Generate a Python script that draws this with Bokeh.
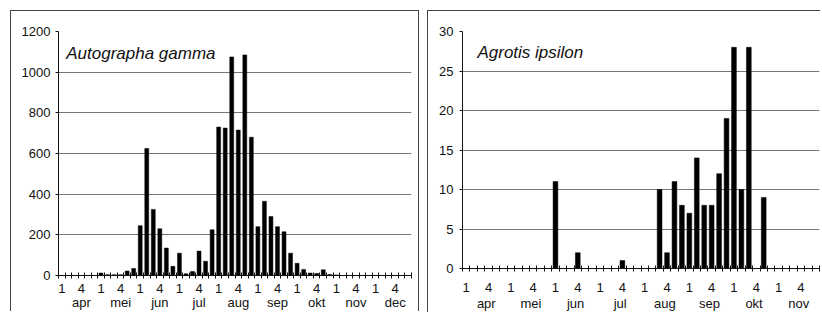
from bokeh.plotting import figure
from bokeh.layouts import row
from bokeh.models import FixedTicker, Label, Range1d, LinearAxis
from bokeh.embed import file_html
from bokeh.resources import INLINE

# ---------------- data ----------------
months_left = ["apr", "mei", "jun", "jul", "aug", "sep", "okt", "nov", "dec"]
gamma = [0, 0, 0, 0, 0, 0,            # apr
         12, 4, 4, 4, 22, 35,          # mei
         245, 625, 325, 230, 135, 45,  # jun
         110, 8, 20, 120, 70, 225,     # jul
         730, 725, 1075, 715, 1085, 680,  # aug
         240, 365, 290, 240, 215, 110,  # sep
         60, 30, 12, 10, 28, 5,        # okt
         3, 0, 0, 0, 0, 0,             # nov
         0, 0, 0, 0, 0, 0]             # dec
yticks_left = [0, 200, 400, 600, 800, 1000, 1200]
title_left = "Autographa gamma"

months_right = ["apr", "mei", "jun", "jul", "aug", "sep", "okt", "nov"]
ipsilon = [0, 0, 0, 0, 0, 0,       # apr
           0, 0, 0, 0, 0, 0,       # mei
           11, 0, 0, 2, 0, 0,      # jun
           0, 0, 0, 1, 0, 0,       # jul
           0, 0, 10, 2, 11, 8,     # aug
           7, 14, 8, 8, 12, 19,    # sep
           28, 10, 28, 0, 9, 0,    # okt
           0, 0, 0, 0, 0, 0]       # nov
yticks_right = [0, 5, 10, 15, 20, 25, 30]
title_right = "Agrotis ipsilon"

PER_MONTH = 6
SLOT_LABELS = {0: "1", 3: "4"}
FONT = "Liberation Sans"
INK = "#111111"


def make_chart(months, values, yticks, title, frame_w, frame_h, mb_left,
               mb_right, bar_width, digit_standoff, month_standoff,
               month_shift, ylab_standoff, title_x, title_y, margin, styles):
    n = len(values)
    xs = list(range(n))
    p = figure(frame_width=frame_w, frame_height=frame_h,
               output_backend="svg", toolbar_location=None,
               x_range=Range1d(-0.5, n - 0.5),
               y_range=Range1d(yticks[0], yticks[-1]),
               min_border_left=mb_left, min_border_right=mb_right,
               min_border_top=20, min_border_bottom=0,
               background_fill_color="white", border_fill_color="white",
               outline_line_color=None, margin=margin, styles=styles)
    p.vbar(x=xs, top=values, width=bar_width, fill_color="black",
           line_color="black", line_width=0.5)

    # main x axis: "+" marks at category borders, labels "1" and "4"
    major = []
    overrides = {}
    for m in range(len(months)):
        for slot, lab in SLOT_LABELS.items():
            pos = m * PER_MONTH + slot
            major.append(pos)
            overrides[pos] = lab
    xa = p.xaxis[0]
    xa.ticker = FixedTicker(ticks=major,
                            minor_ticks=[i - 0.5 for i in range(n + 1)])
    xa.major_label_overrides = overrides
    xa.major_tick_line_color = None
    xa.major_tick_in = 0
    xa.major_tick_out = 3
    xa.minor_tick_in = 3
    xa.minor_tick_out = 3
    xa.minor_tick_line_color = INK
    xa.minor_tick_line_width = 1
    xa.axis_line_color = INK
    xa.axis_line_width = 1.2
    xa.major_label_standoff = digit_standoff
    xa.major_label_text_font = FONT
    xa.major_label_text_font_size = "13px"
    xa.major_label_text_color = INK

    # second axis below: month names
    mpos = [m * PER_MONTH + month_shift for m in range(len(months))]
    ma = LinearAxis(ticker=FixedTicker(ticks=mpos),
                    major_label_overrides={pos: name for pos, name in zip(mpos, months)},
                    axis_line_color=None, major_tick_line_color=None,
                    minor_tick_line_color=None, major_tick_in=0,
                    major_tick_out=0, minor_tick_in=0, minor_tick_out=0,
                    major_label_standoff=month_standoff,
                    major_label_text_font=FONT,
                    major_label_text_font_size="13px",
                    major_label_text_color=INK)
    p.add_layout(ma, "below")

    ya = p.yaxis[0]
    ya.ticker = FixedTicker(ticks=yticks)
    ya.major_tick_in = 0
    ya.major_tick_out = 3
    ya.major_tick_line_color = INK
    ya.minor_tick_line_color = None
    ya.axis_line_color = INK
    ya.major_label_standoff = ylab_standoff
    ya.major_label_text_font = FONT
    ya.major_label_text_font_size = "13px"
    ya.major_label_text_color = INK

    p.xgrid.grid_line_color = None
    p.ygrid.grid_line_color = "#777777"
    p.ygrid.grid_line_width = 1

    p.add_layout(Label(x=title_x, y=title_y, text=title, text_font=FONT,
                       text_font_style="italic", text_font_size="17px",
                       text_color=INK, text_baseline="alphabetic"))
    return p


BORDER = "1px solid #444"

p1 = make_chart(months_left, gamma, yticks_left, title_left,
                frame_w=351, frame_h=243, mb_left=47, mb_right=9,
                bar_width=0.6, digit_standoff=5, month_standoff=-1,
                month_shift=3, ylab_standoff=5,
                title_x=0.68, title_y=1090, margin=(10, 0, 0, 10),
                styles={"border-top": BORDER, "border-left": BORDER,
                        "border-right": BORDER})

p2 = make_chart(months_right, ipsilon, yticks_right, title_right,
                frame_w=356, frame_h=236, mb_left=34, mb_right=2,
                bar_width=0.64, digit_standoff=11, month_standoff=1,
                month_shift=2.7, ylab_standoff=6,
                title_x=1.51, title_y=27.3, margin=(10, 0, 0, 8),
                styles={"border-top": BORDER, "border-left": BORDER})

layout = row(p1, p2)
open("out.html", "w").write(file_html(layout, INLINE))
